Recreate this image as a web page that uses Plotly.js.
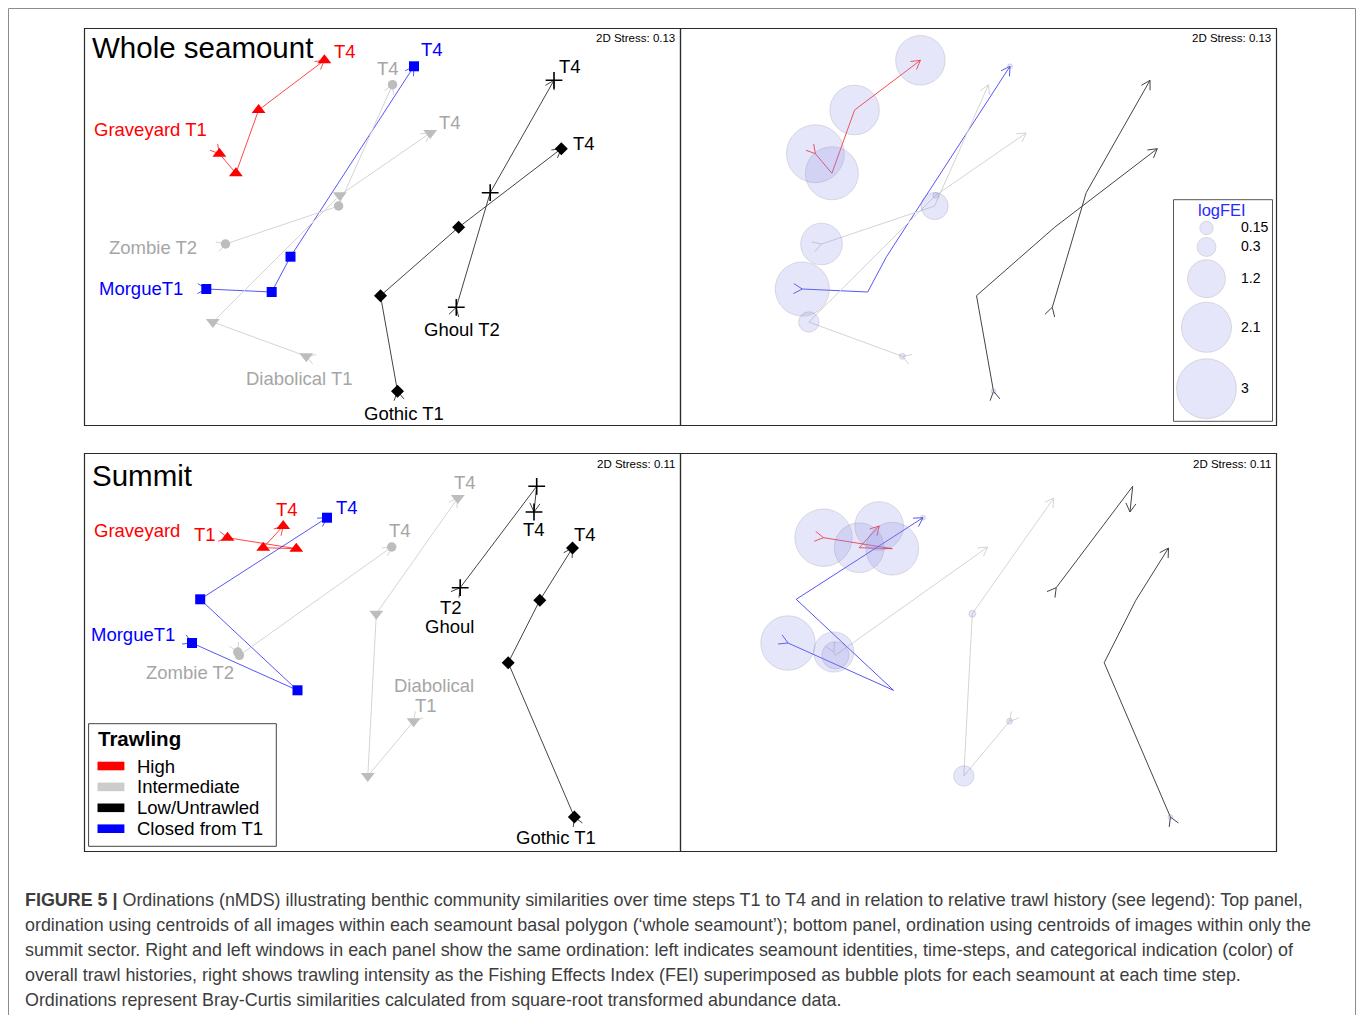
<!DOCTYPE html>
<html><head><meta charset="utf-8">
<script src="https://cdn.plot.ly/plotly-3.0.1.min.js"></script>
<style>body{margin:0;background:#fff}#chart{width:1358px;height:1015px}</style>
</head><body><div id="chart"></div>
<script>
// ---------- DATA (ordination scores, panel units) ----------
const seamounts  = ['Graveyard','Morgue','Zombie','Diabolical','Ghoul','Gothic'];
const trawlClass = ['High','Closed from T1','Intermediate','Intermediate','Low/Untrawled','Low/Untrawled'];
const timeSteps  = ['T1','T2','T3','T4'];

// Whole seamount: MDS1 (x) and MDS2 (y) per seamount, T1..T4 (null = no sample)
const wholeX = [
  [135.4, 151.9, 174.6, 240.4],
  [122.3, 187.7, 206.5, 330.0],
  [null,  141.5, 254.6, 308.5],
  [222.3, 128.8, 255.8, 346.2],
  [null,  372.3, 406.2, 470.0],
  [313.5, 296.5, 374.6, 477.3]
];
const wholeY = [
  [125.7, 145.3,  82.0,  32.3],
  [261.0, 264.0, 228.7,  38.3],
  [null,  216.0, 178.0,  56.7],
  [328.3, 294.0, 167.3, 105.0],
  [null,  279.3, 164.7,  52.3],
  [363.3, 267.7, 199.3, 120.7]
];
const wholeFEI = [
  [2.80, 2.35, 2.05, 2.05],
  [2.45, 0,    0,    0.02],
  [null, 1.45, 0.62, 0],
  [0.03, 0.35, 0.03, 0],
  [null, 0,    0,    0],
  [0.02, 0,    0,    0]
];

// Summit
const summitX = [
  [143.5, 212.3, 179.2, 199.2],
  [108.0, 213.5, 116.2, 243.0],
  [null,  153.8, 155.4, 307.7],
  [329.6, 283.8, 292.3, 373.8],
  [null,  376.2, 452.7, 450.0],
  [490.4, 424.2, 455.8, 488.5]
];
const summitY = [
  [ 85.7,  96.7,  95.7,  74.0],
  [191.0, 238.3, 147.3,  65.7],
  [null,  200.0, 203.3,  95.0],
  [269.3, 324.0, 161.7,  46.0],
  [null,  135.7,  34.3,  60.0],
  [365.0, 210.7, 148.3,  96.0]
];
const summitFEI = [
  [2.75, 2.32, 2.07, 1.98],
  [2.48, 0,    0,    0.02],
  [null, 1.35, 0.62, 0],
  [0.03, 0.35, 0.04, 0],
  [null, 0,    0,    0],
  [0.02, 0,    0,    0]
];

const stress = ['0.13', '0.11'];
const feiLegendValues = [0.15, 0.3, 1.2, 2.1, 3];
const trawlLegend = ['High','Intermediate','Low/Untrawled','Closed from T1'];

// ---------- STYLES ----------
const classColor = {'High':'#ff0000','Intermediate':'#bdbdbd','Low/Untrawled':'#000000','Closed from T1':'#0000ff'};
const classLine  = {'High':'rgba(255,25,25,0.8)','Intermediate':'#d4d4d4','Low/Untrawled':'#444444','Closed from T1':'rgba(30,30,240,0.75)'};
const symbols    = ['triangle-up','square','circle','triangle-down','cross-thin','diamond'];
const symSize    = [12, 10, 9.5, 12, 12, 10];
const BUBBLE_K = 34.6;        // px diameter per sqrt(logFEI)
const ARM = 10, ANG = 30*Math.PI/180;
const FONT = 'Liberation Sans, Arial, sans-serif';

function arms(ax, ay, dx, dy){
  const n = Math.hypot(dx, dy); const ux = -dx/n, uy = -dy/n;
  const r = a => [ax + ARM*(ux*Math.cos(a) - uy*Math.sin(a)), ay + ARM*(ux*Math.sin(a) + uy*Math.cos(a))];
  const p1 = r(ANG), p2 = r(-ANG);
  return [[p1[0], ax, p2[0], null], [p1[1], ay, p2[1], null]];
}

function panelTraces(X, Y, F, xa, ya, showMarkers){
  const tr = [];
  seamounts.forEach((s, i) => {
    const pts = [];
    X[i].forEach((v, k) => { if (v !== null) pts.push([v, Y[i][k], F[i][k], timeSteps[k]]); });
    const cls = trawlClass[i];
    tr.push({type:'scatter', mode:'lines', xaxis:xa, yaxis:ya, x:pts.map(p=>p[0]), y:pts.map(p=>p[1]),
      line:{color:classLine[cls], width:1}, hoverinfo:'skip'});
    const a = pts[0], b = pts[1], c = pts[pts.length-2], d = pts[pts.length-1];
    const s1 = arms(a[0], a[1], b[0]-a[0], b[1]-a[1]);
    const e1 = arms(d[0], d[1], d[0]-c[0], d[1]-c[1]);
    tr.push({type:'scatter', mode:'lines', xaxis:xa, yaxis:ya, x:s1[0].concat(e1[0]), y:s1[1].concat(e1[1]),
      line:{color:classLine[cls], width:1}, hoverinfo:'skip'});
    if (showMarkers){
      const isCross = symbols[i] === 'cross-thin';
      tr.push({type:'scatter', mode:'markers', xaxis:xa, yaxis:ya, x:pts.map(p=>p[0]), y:pts.map(p=>p[1]),
        text: pts.map(p => s + ' ' + p[3]),
        marker:{symbol:symbols[i], size:symSize[i], color:classColor[cls],
          line:{width: isCross ? 1.6 : 0, color:classColor[cls]}}});
    }
  });
  if (!showMarkers){
    const bx=[], by=[], bs=[];
    seamounts.forEach((s, i) => X[i].forEach((v, k) => {
      const f = F[i][k];
      if (v !== null && f > 0){ bx.push(v); by.push(Y[i][k]); bs.push(BUBBLE_K*Math.sqrt(f)); }
    }));
    tr.push({type:'scatter', mode:'markers', xaxis:xa, yaxis:ya, x:bx, y:by,
      marker:{size:bs, sizemode:'diameter', color:'rgba(140,140,232,0.3)', line:{color:'rgba(110,110,130,0.3)', width:1}}});
  }
  return tr;
}

let traces = [];
traces = traces.concat(panelTraces(wholeX, wholeY, wholeFEI, 'x', 'y', true));
traces = traces.concat(panelTraces(wholeX, wholeY, wholeFEI, 'x2', 'y2', false));
traces = traces.concat(panelTraces(summitX, summitY, summitFEI, 'x3', 'y3', true));
traces = traces.concat(panelTraces(summitX, summitY, summitFEI, 'x4', 'y4', false));

// logFEI legend bubbles (top-right window)
const legY = [200, 219, 250.7, 299.3, 360.7];
traces.push({type:'scatter', mode:'markers', xaxis:'x2', yaxis:'y2',
  x: feiLegendValues.map(()=>526.5), y: legY,
  marker:{size: feiLegendValues.map(v => BUBBLE_K*Math.sqrt(v)), sizemode:'diameter',
    color:'rgba(140,140,232,0.3)', line:{color:'rgba(110,110,130,0.3)', width:1}}});

// ---------- LAYOUT ----------
const W = 1358, H = 1015;
const fx = p => p / W, fy = p => 1 - p / H;
function ax(d0, d1, range, anchor){
  return {domain:[d0, d1], range:range, anchor:anchor, showline:false,
    showgrid:false, zeroline:false, showticklabels:false, ticks:'', fixedrange:true};
}
const layout = {
  width:W, height:H, margin:{l:0,r:0,t:0,b:0}, paper_bgcolor:'#fff', plot_bgcolor:'#fff',
  showlegend:false, font:{family:FONT, color:'#000'}, hovermode:'closest',
  xaxis:  ax(fx(84),  fx(680),  [0, 596], 'y'),  yaxis:  ax(fy(425), fy(28),  [397, 0], 'x'),
  xaxis2: ax(fx(680), fx(1276), [0, 596], 'y2'), yaxis2: ax(fy(425), fy(28),  [397, 0], 'x2'),
  xaxis3: ax(fx(84),  fx(680),  [0, 596], 'y3'), yaxis3: ax(fy(851), fy(453), [399, 1], 'x3'),
  xaxis4: ax(fx(680), fx(1276), [0, 596], 'y4'), yaxis4: ax(fy(851), fy(453), [399, 1], 'x4'),
  shapes: [], annotations: []
};
const A = layout.annotations, S = layout.shapes;

// outer frame + panel borders
S.push({type:'rect', xref:'paper', yref:'paper', x0:fx(8.5), x1:fx(1355.5), y0:-0.05, y1:fy(8.5), line:{color:'#8c8c8c', width:1}, layer:'below'});
[[84,680,28,425],[680,1276,28,425],[84,680,453,851],[680,1276,453,851]].forEach(b => {
  S.push({type:'rect', xref:'paper', yref:'paper', x0:fx(b[0]+0.5), x1:fx(b[1]+0.5), y0:fy(b[3]+0.5), y1:fy(b[2]+0.5),
    line:{color:'#2b2b2b', width:1.2}, fillcolor:'rgba(0,0,0,0)', layer:'above'});
});

function lab(t, x, y, color, xr, yr, anchor, size, bold){
  A.push({text: bold ? '<b>'+t+'</b>' : t, x:x, y:y, xref:xr, yref:yr, showarrow:false,
    xanchor:anchor||'center', yanchor:'middle', font:{size:size||18.5, color:color, family:FONT}});
}
const R='#ff0000', B='#0000ff', G='#a6a6a6', K='#000000';
// top-left
lab('Whole seamount', 5.5, 19, K, 'x', 'y', 'left', 29.5);
lab('T4', 261, 23.3, R, 'x', 'y');
lab('T4', 348.2, 21.7, B, 'x', 'y');
lab('T4', 304, 40, G, 'x', 'y');
lab('Graveyard T1', 7.6, 101.7, R, 'x', 'y', 'left');
lab('T4', 366.3, 94.3, G, 'x', 'y');
lab('T4', 485.5, 38.3, K, 'x', 'y');
lab('T4', 500, 115, K, 'x', 'y');
lab('Zombie T2', 23, 219, G, 'x', 'y', 'left');
lab('MorgueT1', 13.4, 260, B, 'x', 'y', 'left');
lab('Ghoul T2', 338, 301.7, K, 'x', 'y', 'left');
lab('Diabolical T1', 160.3, 350, G, 'x', 'y', 'left');
lab('Gothic T1', 277.6, 385.7, K, 'x', 'y', 'left');
// bottom-left
lab('Summit', 5.5, 23.3, K, 'x3', 'y3', 'left', 29.5);
lab('Graveyard', 7.6, 78.3, R, 'x3', 'y3', 'left');
lab('T1', 120.6, 82.3, R, 'x3', 'y3');
lab('T4', 203.2, 57.3, R, 'x3', 'y3');
lab('T4', 262.5, 55, B, 'x3', 'y3');
lab('T4', 315.5, 78.3, G, 'x3', 'y3');
lab('T4', 381, 30.7, G, 'x3', 'y3');
lab('T4', 450.2, 77.3, K, 'x3', 'y3');
lab('T4', 501.3, 82.3, K, 'x3', 'y3');
lab('T2', 367.3, 155.5, K, 'x3', 'y3');
lab('Ghoul', 365.4, 174, K, 'x3', 'y3');
lab('MorgueT1', 4.9, 182.3, B, 'x3', 'y3', 'left');
lab('Zombie T2', 60.3, 220, G, 'x3', 'y3', 'left');
lab('Diabolical', 350.3, 233.3, G, 'x3', 'y3');
lab('T1', 342.3, 253.3, G, 'x3', 'y3');
lab('Gothic T1', 430, 385.7, K, 'x3', 'y3', 'left');
// stress labels
[['x','y',10],['x2','y2',10],['x3','y3',11.7],['x4','y4',11.7]].forEach((p, i) => {
  lab('2D Stress: ' + stress[i < 2 ? 0 : 1], 593, p[2], K, p[0], p[1], 'right', 11.5);
});

// Trawling legend (bottom-left window)
S.push({type:'rect', xref:'x3', yref:'y3', x0:4.6, x1:192.3, y0:271.7, y1:394.3, line:{color:'#444', width:1}, fillcolor:'#fff', layer:'above'});
lab('Trawling', 11.5, 286.7, K, 'x3', 'y3', 'left', 20.5, true);
trawlLegend.forEach((c, i) => {
  const yc = 314 + i*20.9;
  S.push({type:'rect', xref:'x3', yref:'y3', x0:13.5, x1:40.4, y0:yc-4.3, y1:yc+4.3, line:{width:0}, fillcolor: c==='Intermediate' ? '#cccccc' : classColor[c], layer:'above'});
  lab(c, 50.7, yc, K, 'x3', 'y3', 'left', 18.5);
});

// logFEI legend (top-right window)
S.push({type:'rect', xref:'x2', yref:'y2', x0:493.5, x1:592.5, y0:171.7, y1:393.3, line:{color:'#555', width:1}, fillcolor:'rgba(0,0,0,0)', layer:'below'});
lab('logFEI', 541.5, 181.7, '#2a2aff', 'x2', 'y2', 'center', 16.5);
feiLegendValues.forEach((v, i) => lab(String(v), 558.5, legY[i] - 0.8, K, 'x2', 'y2', 'left', 14));

// caption
const CAP = 'Liberation Sans, Arial, sans-serif';
const caption = [
  '<b>FIGURE 5 |</b> Ordinations (nMDS) illustrating benthic community similarities over time steps T1 to T4 and in relation to relative trawl history (see legend): Top panel,',
  'ordination using centroids of all images within each seamount basal polygon (‘whole seamount’); bottom panel, ordination using centroids of images within only the',
  'summit sector. Right and left windows in each panel show the same ordination: left indicates seamount identities, time-steps, and categorical indication (color) of',
  'overall trawl histories, right shows trawling intensity as the Fishing Effects Index (FEI) superimposed as bubble plots for each seamount at each time step.',
  'Ordinations represent Bray-Curtis similarities calculated from square-root transformed abundance data.'
];
caption.forEach((t, i) => A.push({text:t, xref:'paper', yref:'paper', x:fx(23), y:fy(900 + i*25), xanchor:'left', yanchor:'middle',
  showarrow:false, font:{family:CAP, size:17.9, color:'#3d3d3d'}}));

Plotly.newPlot('chart', traces, layout, {staticPlot:true, displayModeBar:false});
</script></body></html>
